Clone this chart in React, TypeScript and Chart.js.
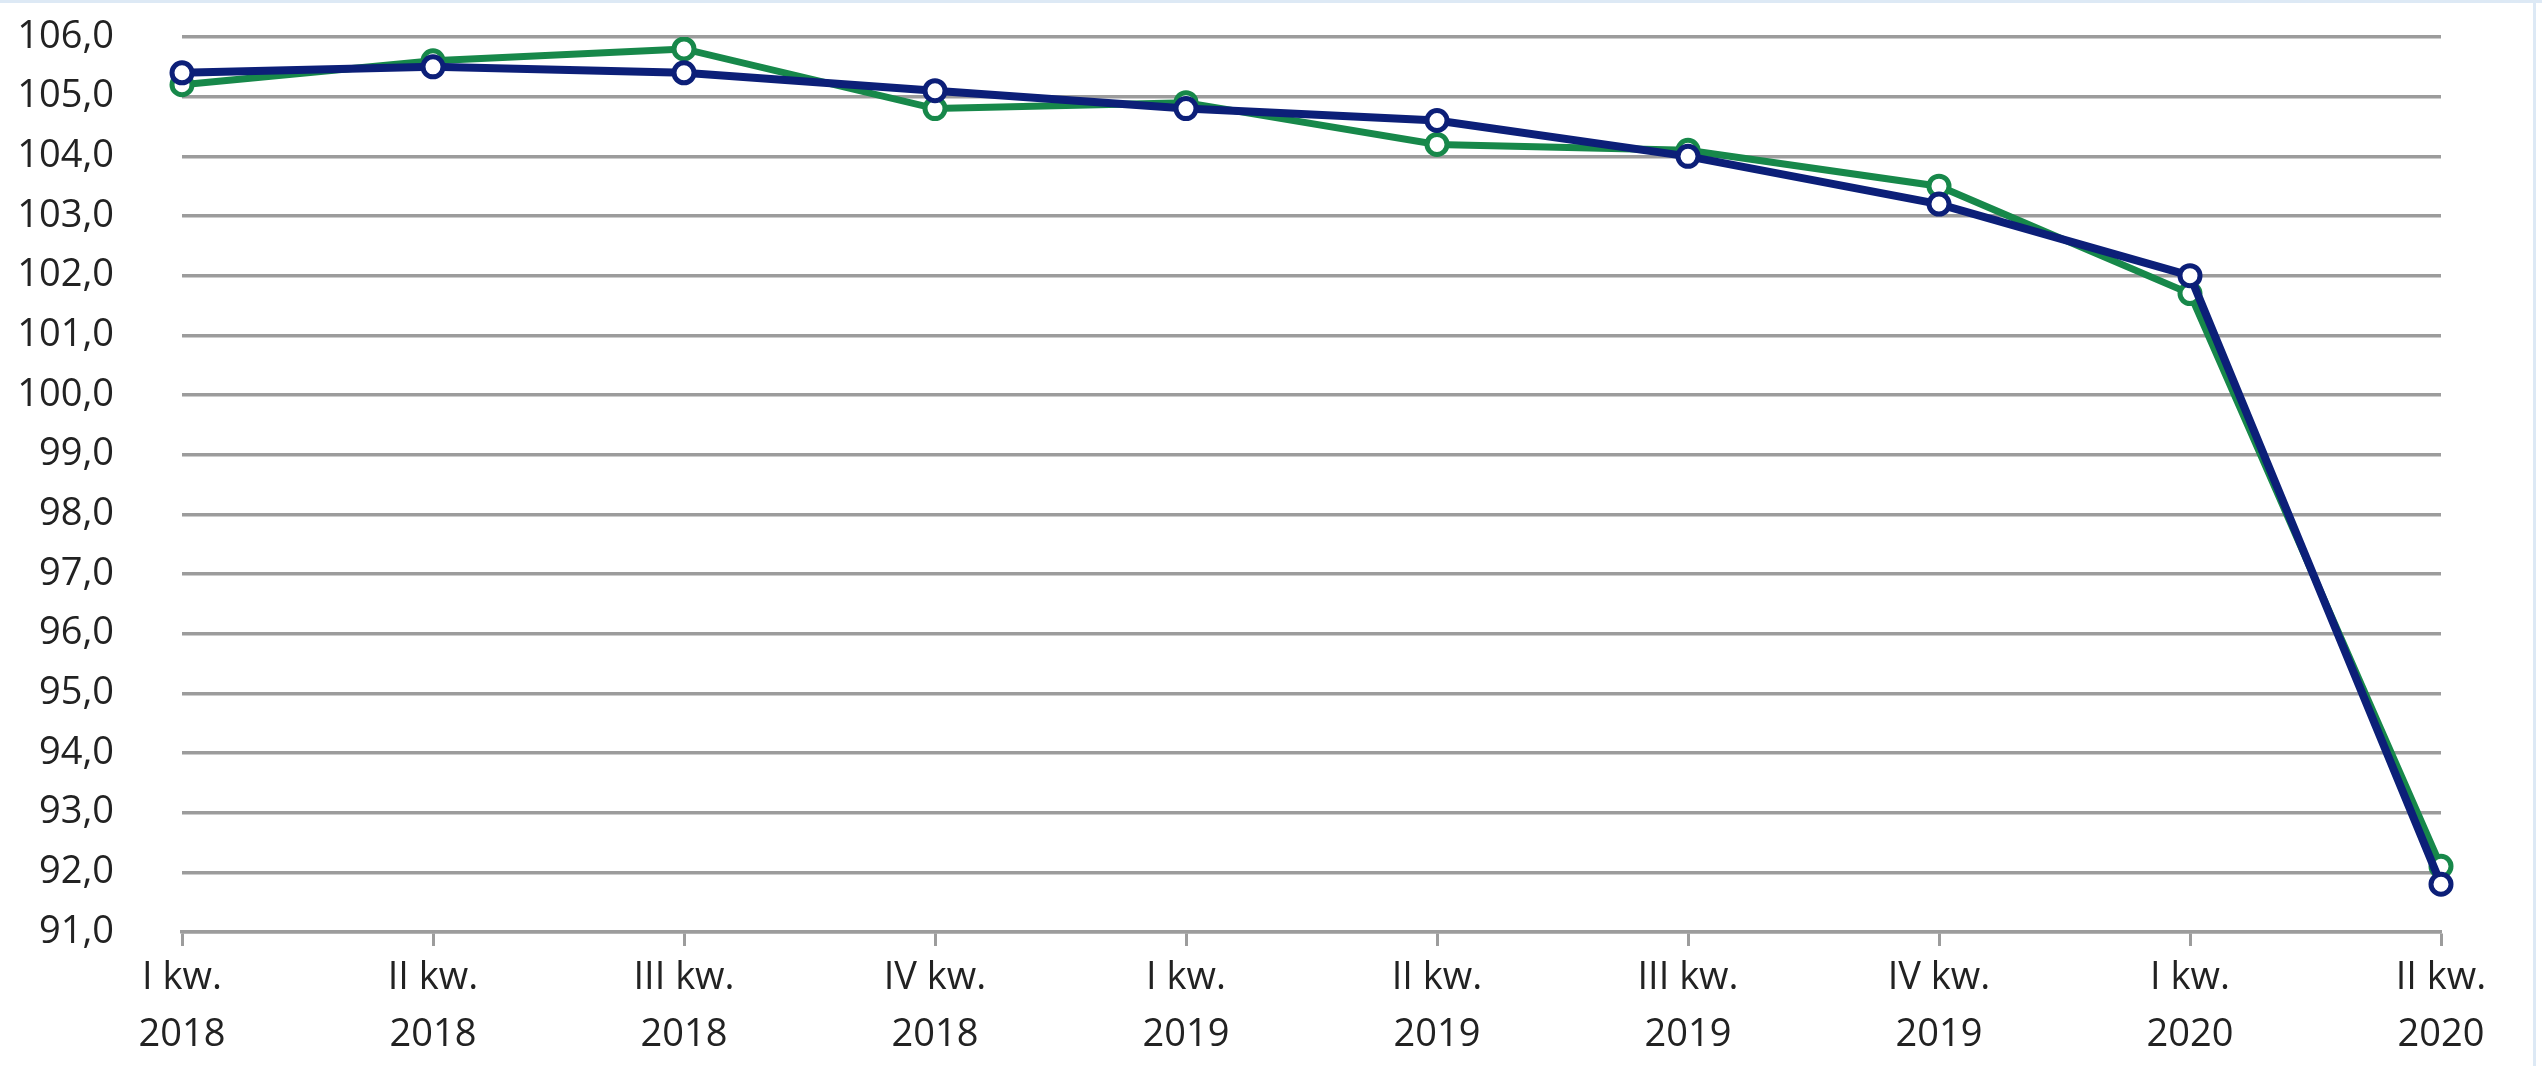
import React, { useEffect, useRef } from "react";
import { Chart, registerables } from "chart.js";

Chart.register(...registerables);

const categories: string[][] = [
  ["I kw.", "2018"], ["II kw.", "2018"], ["III kw.", "2018"], ["IV kw.", "2018"],
  ["I kw.", "2019"], ["II kw.", "2019"], ["III kw.", "2019"], ["IV kw.", "2019"],
  ["I kw.", "2020"], ["II kw.", "2020"],
];
const greenSeries: number[] = [105.2, 105.6, 105.8, 104.8, 104.9, 104.2, 104.1, 103.5, 101.7, 92.1];
const blueSeries: number[] = [105.4, 105.5, 105.4, 105.1, 104.8, 104.6, 104.0, 103.2, 102.0, 91.8];
const yMin = 91;
const yMax = 106;
const yStep = 1;

const FONT = "'Open Sans', sans-serif";

export default function App() {
  const ref = useRef<HTMLCanvasElement | null>(null);
  useEffect(() => {
    if (!ref.current) return;
    const chart = new Chart(ref.current, {
      type: "line",
      data: {
        labels: categories,
        datasets: [
          {
            label: "Seria 2",
            data: blueSeries,
            borderColor: "#0c1f78",
            backgroundColor: "#ffffff",
            borderWidth: 8,
            pointRadius: 10,
            pointBorderWidth: 5,
            pointBackgroundColor: "#ffffff",
            pointBorderColor: "#0c1f78",
            tension: 0,
          },
          {
            label: "Seria 1",
            data: greenSeries,
            borderColor: "#17884a",
            backgroundColor: "#ffffff",
            borderWidth: 7,
            pointRadius: 10,
            pointBorderWidth: 5,
            pointBackgroundColor: "#ffffff",
            pointBorderColor: "#17884a",
            tension: 0,
          },
        ],
      },
      options: {
        animation: false,
        responsive: false,
        maintainAspectRatio: false,
        layout: { padding: { top: 37, right: 101, left: 0, bottom: 0 } },
        plugins: { legend: { display: false }, tooltip: { enabled: false } },
        scales: {
          x: {
            offset: false,
            grid: {
              drawOnChartArea: false,
              drawTicks: true,
              tickLength: 14,
              tickWidth: 3,
              tickColor: "#9c9c9c",
            },
            border: { display: true, color: "#9c9c9c", width: 3.5 },
            ticks: {
              color: "#222222",
              font: { family: FONT, size: 38, lineHeight: 1.5 },
              padding: 4,
              maxRotation: 0,
              autoSkip: false,
            },
            afterFit: (s: any) => { s.height = 134; },
          },
          y: {
            min: yMin,
            max: yMax,
            grid: {
              color: "#9c9c9c",
              lineWidth: 3.5,
              drawTicks: true,
              tickLength: 60,
              tickColor: "rgba(0,0,0,0)",
            },
            border: { display: false },
            ticks: {
              stepSize: yStep,
              color: "#222222",
              padding: 8,
              font: { family: FONT, size: 38 },
              callback: (v: any) => Number(v).toFixed(1).replace(".", ","),
            },
            afterFit: (s: any) => { s.width = 182; },
          },
        },
      },
    });
    return () => chart.destroy();
  }, []);
  return (
    <div style={{ position: "fixed", left: 0, top: 0, width: 2542, height: 1066, background: "#fff" }}>
      <canvas ref={ref} width={2542} height={1066} style={{ display: "block", width: 2542, height: 1066 }} />
      <div style={{ position: "absolute", left: 0, top: 0, width: 2542, height: 3, background: "#dde9f5" }} />
      <div style={{ position: "absolute", left: 2533, top: 0, width: 3, height: 1066, background: "#dde9f5" }} />
    </div>
  );
}
